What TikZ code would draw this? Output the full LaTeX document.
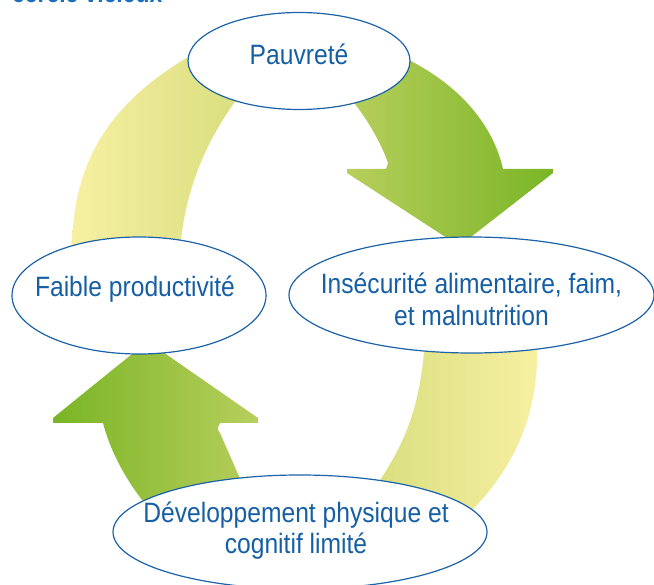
\documentclass[tikz,border=0pt]{standalone}
\usepackage{fontspec}
\setmainfont{Liberation Sans}[FakeStretch=0.88]
\usetikzlibrary{shapes.geometric}
\definecolor{textblue}{RGB}{22,95,165}
\definecolor{lineblue}{RGB}{28,98,168}
\definecolor{titleblue}{RGB}{25,110,190}
\definecolor{greendark}{RGB}{122,181,38}
\definecolor{greenlight}{RGB}{183,206,92}
\definecolor{yellowlight}{RGB}{247,240,162}
\definecolor{yellowdark}{RGB}{216,222,126}
\begin{document}
\begin{tikzpicture}[x=1pt,y=-1pt,
		bubble/.style={ellipse,draw=lineblue,line width=1.2pt,fill=white,inner sep=0pt},
		caption/.style={text=textblue,inner sep=0pt,align=center,anchor=base,
			font=\fontsize{28}{32}\selectfont}]
		\useasboundingbox (0,0) rectangle (654,585);
		\clip (0,0) rectangle (654,585);
		\node[anchor=base west,inner sep=0pt,text=titleblue,font=\fontsize{26}{30}\selectfont\bfseries] (title) at (12,3) {cercle vicieux};
		% tails
		\shade[left color=yellowlight,right color=yellowdark] (72,245) .. controls (74,150) and (120,95) .. (200,50)
			-- (245,88) .. controls (205,140) and (185,190) .. (180,250) -- cycle;
		\shade[left color=yellowdark,right color=yellowlight] (425,340) .. controls (420,410) and (405,445) .. (370,495)
			-- (462,520) .. controls (510,475) and (540,420) .. (537,340) -- cycle;
		% arrows
		\shade[left color=greenlight,right color=greendark] (352,100) .. controls (366,118) and (380,140) .. (388,163)
			-- (386,169) -- (347,169) -- (347,173) -- (450,240) -- (467,240) -- (553,173) -- (553,169) -- (503,169)
			.. controls (493,125) and (460,85) .. (405,58) -- cycle;
		\shade[left color=greendark,right color=greenlight] (137,350) -- (53,418) -- (53,423) -- (103,423)
			.. controls (110,450) and (125,480) .. (150,510) -- (245,490) -- (220,433)
			.. controls (217,429) .. (220,423) -- (258,423) -- (258,418) -- (160,350) -- cycle;
		% bubbles
		\node[bubble,minimum width=222pt,minimum height=97pt] (pauv) at (299,61) {};
		\node[bubble,minimum width=254pt,minimum height=117pt] (faible) at (139,295.5) {};
		\node[bubble,minimum width=365pt,minimum height=116pt] (insec) at (471.5,295) {};
		\node[bubble,minimum width=374pt,minimum height=114pt] (dev) at (300,532) {};
		\node[caption] (pauvtext) at ([yshift=-4pt]pauv.center) {Pauvreté};
		\node[caption] (faibletext) at ([xshift=-4pt,yshift=-1.5pt]faible.center) {Faible productivité};
		\node[caption] (insectext) at ([yshift=-31pt]insec.center) {Insécurité alimentaire, faim,\\et malnutrition};
		\node[caption] (devtext) at ([xshift=-4pt,yshift=-22pt]dev.center) {Développement physique et\\cognitif limité};
	\end{tikzpicture}
\end{document}
